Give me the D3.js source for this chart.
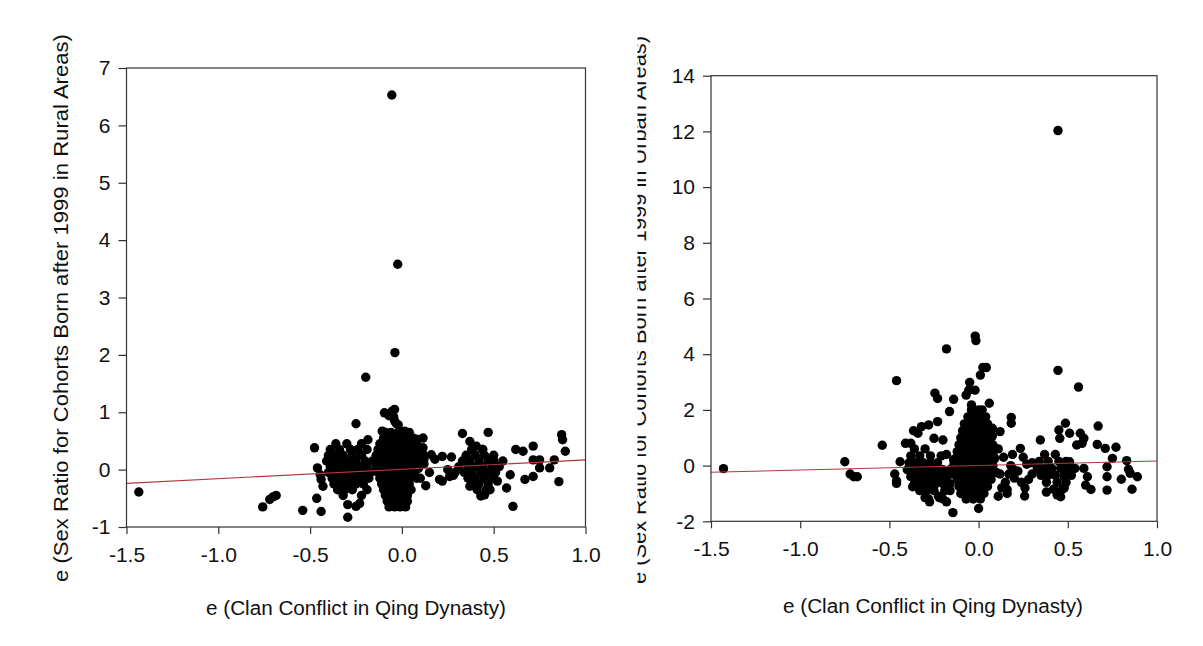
<!DOCTYPE html>
<html><head><meta charset="utf-8">
<script src="https://cdn.jsdelivr.net/npm/d3@7"></script>
<style>
body{margin:0;background:#fff}
svg{display:block}
text{font-family:"Liberation Sans",Arial,sans-serif;fill:#111}
</style>
</head><body>
<svg id="c" width="1203" height="646"></svg>
<script>
// ---------- data ----------
const xTicks = [-1.5, -1.0, -0.5, 0.0, 0.5, 1.0];
const ruralYTicks = [-1, 0, 1, 2, 3, 4, 5, 6, 7];
const urbanYTicks = [-2, 0, 2, 4, 6, 8, 10, 12, 14];
const xTitle = "e (Clan Conflict in Qing Dynasty)";
const ruralYTitle = "e (Sex Ratio for Cohorts Born after 1999 in Rural Areas)";
const urbanYTitle = "e (Sex Ratio for Cohorts Born after 1999 in Urban Areas)";
const ruralFit = [[-1.5, -0.24], [1.0, 0.17]];
const urbanFit = [[-1.5, -0.24], [1.0, 0.165]];

const ruralPoints = [
  // outliers and scattered
  [-0.055,6.53],[-0.023,3.58],[-0.038,2.04],[-0.197,1.61],[-1.433,-0.39],
  [-0.758,-0.65],[-0.72,-0.52],[-0.70,-0.47],[-0.685,-0.45],
  [-0.54,-0.71],[-0.44,-0.73],[-0.464,-0.5],[-0.476,0.38],
  [-0.46,0.03],[-0.445,-0.09],[-0.44,-0.17],[-0.43,-0.29],
  [-0.295,-0.83],[-0.295,-0.61],[-0.25,-0.64],[-0.23,-0.59],
  [-0.25,0.8],[-0.185,0.52],
  [-0.107,0.67],[-0.095,0.99],[-0.07,0.94],[-0.053,1.02],[-0.04,1.05],[-0.045,0.92],[-0.03,0.8],
  [0.015,0.67],[0.08,0.53],[0.115,0.55],[0.115,0.38],[0.16,0.26],[0.22,0.23],[0.27,0.22],[0.205,-0.17],[0.26,-0.12],
  [0.1,-0.15],[0.13,-0.28],[0.09,0.02],[0.12,0.18],
  [0.33,0.63],[0.47,0.65],[0.37,0.49],[0.405,0.41],[0.44,0.35],
  [0.37,-0.29],[0.43,-0.46],[0.45,-0.44],[0.48,-0.35],
  [0.52,-0.2],[0.57,-0.32],[0.59,-0.09],[0.605,-0.64],
  [0.62,0.35],[0.66,0.32],[0.715,0.41],[0.715,0.17],[0.75,0.17],
  [0.67,-0.17],[0.715,-0.12],[0.75,0.03],[0.805,0.03],[0.83,0.17],
  [0.87,0.61],[0.875,0.52],[0.89,0.32],[0.855,-0.21],
  [0.5,0.17],[0.51,0.06],[0.55,0.15],
  [0.12,0.1],[0.15,-0.05],[0.18,0.18],[0.22,-0.2],[0.25,0.0],[0.28,-0.1],
  // central spike
  [-0.09,0.65],[-0.06,0.65],[-0.02,0.65],[0.01,0.65],[0.04,0.65],
  [-0.10,0.55],[-0.07,0.55],[-0.04,0.55],[-0.01,0.55],[0.03,0.55],[0.06,0.55],
  [-0.12,0.45],[-0.08,0.45],[-0.05,0.45],[-0.02,0.45],[0.01,0.45],[0.05,0.45],[0.08,0.45],
  [-0.13,0.35],[-0.09,0.35],[-0.06,0.35],[-0.03,0.35],[0.0,0.35],[0.04,0.35],[0.07,0.35],[0.10,0.35],
  [-0.14,0.25],[-0.10,0.25],[-0.07,0.25],[-0.04,0.25],[-0.01,0.25],[0.02,0.25],[0.06,0.25],[0.09,0.25],[0.12,0.25],
  [-0.15,0.15],[-0.11,0.15],[-0.08,0.15],[-0.05,0.15],[-0.02,0.15],[0.01,0.15],[0.04,0.15],[0.08,0.15],[0.11,0.15],
  [-0.14,0.05],[-0.10,0.05],[-0.07,0.05],[-0.04,0.05],[-0.01,0.05],[0.02,0.05],[0.05,0.05],[0.09,0.05],
  [-0.13,-0.05],[-0.09,-0.05],[-0.06,-0.05],[-0.03,-0.05],[0.0,-0.05],[0.03,-0.05],[0.07,-0.05],
  [-0.12,-0.15],[-0.08,-0.15],[-0.05,-0.15],[-0.02,-0.15],[0.01,-0.15],[0.04,-0.15],[0.08,-0.15],
  [-0.11,-0.25],[-0.08,-0.25],[-0.05,-0.25],[-0.02,-0.25],[0.01,-0.25],[0.04,-0.25],
  [-0.10,-0.35],[-0.07,-0.35],[-0.04,-0.35],[-0.01,-0.35],[0.02,-0.35],[0.05,-0.35],
  [-0.09,-0.45],[-0.06,-0.45],[-0.03,-0.45],[0.0,-0.45],[0.03,-0.45],
  [-0.08,-0.55],[-0.05,-0.55],[-0.02,-0.55],[0.01,-0.55],[0.03,-0.55],
  [-0.07,-0.65],[-0.04,-0.65],[-0.01,-0.65],[0.02,-0.65],
  [-0.04,0.85],[-0.02,0.78],
  // left cluster
  [-0.36,0.45],[-0.30,0.45],[-0.22,0.45],
  [-0.39,0.35],[-0.34,0.35],[-0.28,0.35],[-0.24,0.35],[-0.19,0.35],
  [-0.40,0.25],[-0.36,0.25],[-0.32,0.25],[-0.27,0.25],[-0.22,0.25],
  [-0.41,0.15],[-0.37,0.15],[-0.33,0.15],[-0.29,0.15],[-0.25,0.15],[-0.20,0.15],[-0.16,0.15],
  [-0.39,0.05],[-0.35,0.05],[-0.31,0.05],[-0.27,0.05],[-0.23,0.05],[-0.19,0.05],
  [-0.40,-0.05],[-0.36,-0.05],[-0.32,-0.05],[-0.28,-0.05],[-0.24,-0.05],[-0.20,-0.05],[-0.17,-0.05],
  [-0.38,-0.15],[-0.34,-0.15],[-0.30,-0.15],[-0.26,-0.15],[-0.22,-0.15],[-0.18,-0.15],
  [-0.37,-0.25],[-0.33,-0.25],[-0.29,-0.25],[-0.25,-0.25],[-0.21,-0.25],
  [-0.35,-0.35],[-0.31,-0.35],[-0.27,-0.35],[-0.19,-0.35],
  [-0.32,-0.45],[-0.22,-0.45],
  // right cluster
  [0.38,0.35],[0.44,0.35],
  [0.35,0.25],[0.40,0.25],[0.45,0.25],[0.50,0.25],
  [0.33,0.15],[0.37,0.15],[0.42,0.15],[0.47,0.15],
  [0.31,0.05],[0.36,0.05],[0.40,0.05],[0.44,0.05],[0.49,0.05],[0.53,0.05],
  [0.29,-0.05],[0.34,-0.05],[0.38,-0.05],[0.43,-0.05],[0.47,-0.05],[0.51,-0.05],
  [0.36,-0.15],[0.40,-0.15],[0.45,-0.15],[0.50,-0.15],
  [0.38,-0.25],[0.42,-0.25],[0.47,-0.25],
  [0.41,-0.35],[0.46,-0.35]
];

const urbanPoints = [
  // outliers and scattered
  [0.445,12.03],[-1.43,-0.11],[0.445,3.42],[0.56,2.82],
  [-0.019,4.65],[-0.015,4.49],[-0.18,4.19],[-0.46,3.05],
  [0.024,3.52],[0.043,3.52],[0.01,3.25],[-0.05,2.99],[-0.055,2.71],[-0.07,2.53],[-0.02,2.71],
  [-0.245,2.6],[-0.23,2.41],[-0.14,2.38],[-0.04,2.18],[-0.163,1.94],[0.06,2.24],
  [0.183,1.73],[0.183,1.52],[0.12,1.22],[0.077,1.34],[0.077,1.06],
  [-0.365,1.25],[-0.34,1.16],[-0.32,1.4],[-0.28,1.46],[-0.23,1.58],[-0.38,0.8],[-0.41,0.8],
  [-0.54,0.73],[-0.25,0.98],[-0.2,0.92],
  [-0.75,0.14],[-0.72,-0.3],[-0.70,-0.4],[-0.68,-0.4],
  [-0.47,-0.3],[-0.44,0.14],[-0.46,-0.64],[-0.46,-0.55],[-0.37,-0.76],
  [-0.275,-1.3],[-0.2,-1.2],[-0.18,-1.3],[-0.144,-1.69],[0.0,-1.54],[0.11,-1.1],[0.16,-0.86],[0.258,-1.09],
  [0.234,0.62],[0.346,0.92],
  [0.38,-0.95],[0.44,-1.05],[0.46,-1.12],
  [0.487,1.52],[0.45,1.28],[0.51,1.16],[0.455,0.98],[0.57,1.16],[0.59,0.98],[0.55,0.74],[0.58,0.8],
  [0.67,1.42],[0.665,0.76],[0.71,0.62],[0.77,0.66],
  [0.75,0.26],[0.72,-0.04],[0.72,-0.4],[0.72,-0.88],
  [0.83,0.18],[0.84,-0.13],[0.8,-0.49],[0.85,-0.28],[0.89,-0.4],[0.86,-0.85],
  [0.59,-0.1],[0.61,-0.4],[0.6,-0.7],[0.63,-0.86],[0.48,-0.4],[0.48,-0.8],[0.51,0.14],
  [-0.28,-1.2],[-0.225,-1.1],[-0.05,-1.0],
  [0.12,-0.3],[0.15,-0.6],[0.18,0.0],[0.2,-0.45],[0.22,-0.2],[0.25,0.3],[0.28,-0.5],[0.3,0.1],[0.14,0.3],[0.26,-0.8],
  [0.084,0.32],[0.2,-0.16],
  [0.13,-0.8],[0.17,-0.3],[0.19,0.4],[0.24,-0.6],[0.27,0.05],[0.3,-0.3],[0.11,0.6],[0.16,-1.0],
  // central spike
  [-0.04,2.0],[0.0,2.0],[0.02,2.0],
  [-0.06,1.75],[-0.02,1.75],[0.01,1.75],[0.04,1.75],
  [-0.08,1.5],[-0.04,1.5],[-0.01,1.5],[0.02,1.5],[0.05,1.5],
  [-0.09,1.25],[-0.05,1.25],[-0.02,1.25],[0.01,1.25],[0.04,1.25],
  [-0.10,1.0],[-0.06,1.0],[-0.03,1.0],[0.0,1.0],[0.03,1.0],[0.06,1.0],
  [-0.11,0.75],[-0.07,0.75],[-0.04,0.75],[-0.01,0.75],[0.02,0.75],[0.05,0.75],[0.08,0.75],
  [-0.12,0.5],[-0.08,0.5],[-0.05,0.5],[-0.02,0.5],[0.01,0.5],[0.04,0.5],[0.07,0.5],
  [-0.13,0.25],[-0.09,0.25],[-0.06,0.25],[-0.03,0.25],[0.0,0.25],[0.03,0.25],[0.06,0.25],[0.09,0.25],
  [-0.14,0.0],[-0.10,0.0],[-0.07,0.0],[-0.04,0.0],[-0.01,0.0],[0.02,0.0],[0.05,0.0],[0.08,0.0],
  [-0.13,-0.25],[-0.09,-0.25],[-0.06,-0.25],[-0.03,-0.25],[0.0,-0.25],[0.03,-0.25],[0.06,-0.25],[0.10,-0.25],
  [-0.12,-0.5],[-0.08,-0.5],[-0.05,-0.5],[-0.02,-0.5],[0.01,-0.5],[0.04,-0.5],[0.07,-0.5],
  [-0.11,-0.75],[-0.07,-0.75],[-0.04,-0.75],[-0.01,-0.75],[0.02,-0.75],[0.05,-0.75],
  [-0.10,-1.0],[-0.06,-1.0],[-0.03,-1.0],[0.0,-1.0],[0.03,-1.0],
  [-0.07,-1.2],[-0.03,-1.2],[0.01,-1.2],
  // left cluster
  [-0.36,0.6],[-0.30,0.6],
  [-0.38,0.35],[-0.33,0.35],[-0.27,0.35],[-0.21,0.35],
  [-0.39,0.1],[-0.35,0.1],[-0.31,0.1],[-0.27,0.1],[-0.23,0.1],
  [-0.40,-0.15],[-0.36,-0.15],[-0.32,-0.15],[-0.28,-0.15],[-0.24,-0.15],[-0.20,-0.15],[-0.16,-0.15],
  [-0.38,-0.4],[-0.34,-0.4],[-0.30,-0.4],[-0.26,-0.4],[-0.22,-0.4],[-0.18,-0.4],
  [-0.36,-0.65],[-0.32,-0.65],[-0.28,-0.65],[-0.24,-0.65],[-0.20,-0.65],[-0.16,-0.65],
  [-0.33,-0.9],[-0.29,-0.9],[-0.25,-0.9],[-0.19,-0.9],
  [-0.30,-1.15],[-0.22,-1.15],
  [-0.15,-0.3],[-0.14,0.2],[-0.16,-0.9],[-0.18,0.4],
  // right cluster
  [0.37,0.4],[0.43,0.4],
  [0.34,0.15],[0.39,0.15],[0.45,0.15],[0.49,0.15],
  [0.33,-0.1],[0.37,-0.1],[0.41,-0.1],[0.46,-0.1],[0.50,-0.1],[0.54,-0.1],
  [0.35,-0.35],[0.39,-0.35],[0.43,-0.35],[0.48,-0.35],[0.52,-0.35],
  [0.38,-0.6],[0.44,-0.6],[0.49,-0.6],
  [0.42,-0.85],[0.47,-0.85]
];

// ---------- drawing ----------
const svg = d3.select("#c");
svg.append("rect").attr("width",1203).attr("height",646).attr("fill","#fff");

const panels = [
  {pts: ruralPoints, fit: ruralFit, yTicks: ruralYTicks, yTitle: ruralYTitle,
   x0:126.5, x1:585.5, y0:68, y1:527, ytx:68, yty:308, ytLen:548, xtx:356, xty:615, clip:null},
  {pts: urbanPoints, fit: urbanFit, yTicks: urbanYTicks, yTitle: urbanYTitle,
   x0:711, x1:1157, y0:75.7, y1:521.3, ytx:646, yty:310, ytLen:548, xtx:933, xty:613, clip:637.5}
];

panels.forEach((p, i) => {
  const g = svg.append("g");
  const x = d3.scaleLinear().domain([xTicks[0], xTicks[xTicks.length-1]]).range([p.x0, p.x1]);
  const y = d3.scaleLinear().domain([p.yTicks[0], p.yTicks[p.yTicks.length-1]]).range([p.y1, p.y0]);

  // points
  g.append("g").selectAll("circle").data(p.pts).join("circle")
    .attr("cx", d => x(d[0])).attr("cy", d => y(d[1])).attr("r", 4.7).attr("fill", "#000");

  // fit line
  g.append("path").datum(p.fit)
    .attr("d", d3.line().x(d => x(d[0])).y(d => y(d[1])))
    .attr("stroke", "#b3363c").attr("stroke-width", 1.1).attr("fill", "none");

  // box
  g.append("rect").attr("x", p.x0).attr("y", p.y0).attr("width", p.x1-p.x0).attr("height", p.y1-p.y0)
    .attr("fill", "none").attr("stroke", "#333").attr("stroke-width", 1.2);

  // axes
  const ax = g.append("g").attr("transform", `translate(0,${p.y1})`)
    .call(d3.axisBottom(x).tickValues(xTicks).tickFormat(d => d.toFixed(1)).tickSize(7).tickSizeOuter(0).tickPadding(13));
  const ay = g.append("g").attr("transform", `translate(${p.x0},0)`)
    .call(d3.axisLeft(y).tickValues(p.yTicks).tickFormat(d => String(d)).tickSize(8).tickSizeOuter(0).tickPadding(8));
  [ax, ay].forEach(a => {
    a.select(".domain").remove();
    a.selectAll(".tick line").attr("stroke", "#333").attr("stroke-width", 1.2);
    a.selectAll(".tick text").attr("font-size", 21).attr("font-family", '"Liberation Sans",Arial,sans-serif').attr("fill", "#111");
  });

  // x title
  g.append("text").attr("x", p.xtx).attr("y", p.xty).attr("text-anchor", "middle")
    .attr("font-size", 20).attr("textLength", 300).attr("lengthAdjust", "spacingAndGlyphs").text(xTitle);

  // y title
  let tg = g;
  if (p.clip !== null) {
    svg.append("clipPath").attr("id", "yclip" + i).append("rect")
      .attr("x", p.clip).attr("y", 0).attr("width", 60).attr("height", 646);
    tg = g.append("g").attr("clip-path", `url(#yclip${i})`);
  }
  tg.append("text").attr("transform", `translate(${p.ytx},${p.yty}) rotate(-90)`)
    .attr("text-anchor", "middle").attr("font-size", 21)
    .attr("textLength", p.ytLen).attr("lengthAdjust", "spacingAndGlyphs").text(p.yTitle);
});
</script>
</body></html>
